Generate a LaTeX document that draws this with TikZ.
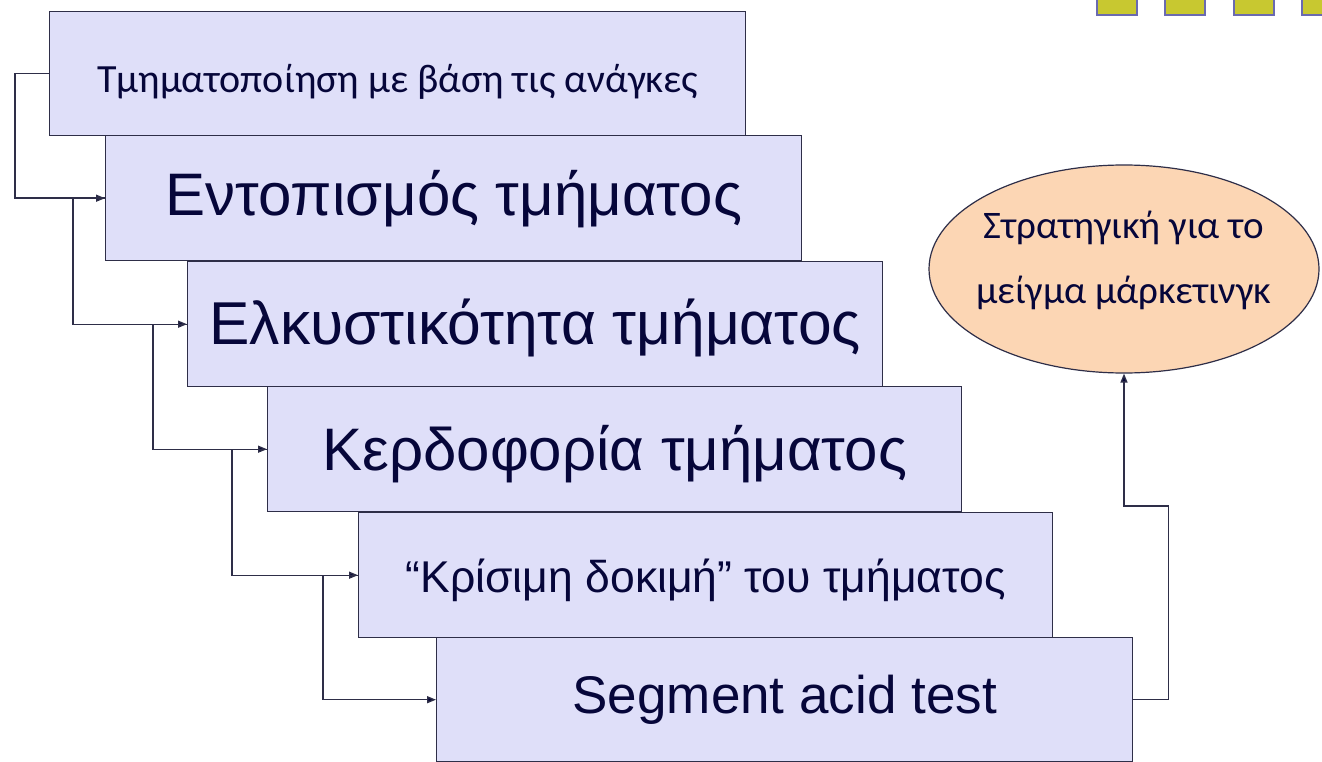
\documentclass[tikz,border=0pt]{standalone}
\usepackage{fontspec}
\setmainfont{Liberation Sans}
\newfontfamily\calfont{Carlito}
\usetikzlibrary{arrows.meta,shapes.geometric}
\definecolor{boxfill}{HTML}{DFDFF9}
\definecolor{boxline}{HTML}{2E2E48}
\definecolor{txt}{HTML}{06063A}
\definecolor{ellfill}{HTML}{FCD6B4}
\definecolor{sqfill}{HTML}{C8C830}
\definecolor{sqline}{HTML}{6A6AB0}
\begin{document}
\begin{tikzpicture}[x=1pt,y=-1pt,
  box/.style={draw=boxline,line width=1.4pt,fill=boxfill,minimum width=696pt,
    minimum height=125pt,inner sep=0pt,anchor=north west,text=txt,text depth=0pt},
  conn/.style={draw=boxline,line width=1.4pt,-{Triangle[length=9pt,width=7pt,fill=txt]}},
  sq/.style={fill=sqfill,draw=sqline,line width=2pt}]
\clip (0,0) rectangle (1322,762);
\fill[white] (0,0) rectangle (1322,762);
% decorative squares (top right)
\draw[sq] (1097,-10) rectangle (1137,15);
\draw[sq] (1165,-10) rectangle (1205,15);
\draw[sq] (1234,-10) rectangle (1274,15);
\draw[sq] (1302,-10) rectangle (1342,15);
% boxes
\node[box,minimum height=124pt,text height=38pt,font=\calfont\fontsize{40}{44}\selectfont] (b1) at (49,11) {Τμηματοποίηση με βάση τις ανάγκες};
\node[box,text height=35pt,font=\fontsize{60}{64}\selectfont] (b2) at (105,135) {Εντοπισμός τμήματος};
\node[box,minimum width=695pt,text height=41pt,font=\fontsize{60.5}{64}\selectfont] (b3) at (187,261) {Ελκυστικότητα τμήματος};
\node[box,minimum width=694pt,text height=42pt,font=\fontsize{60}{64}\selectfont] (b4) at (267,386) {Κερδοφορία τμήματος};
\node[box,minimum width=694pt,text height=35pt,font=\fontsize{44.5}{48}\selectfont] (b5) at (358,512) {“Κρίσιμη δοκιμή” του τμήματος};
\node[box,minimum width=696pt,minimum height=124pt,text height=28pt,font=\fontsize{53}{56}\selectfont] (b6) at (436,637) {Segment acid test};
% ellipse
\node[ellipse,draw=boxline,line width=1.2pt,fill=ellfill,minimum width=390pt,minimum height=208pt,
  inner xsep=-60pt,inner ysep=0pt,align=center,text=txt,text height=68pt,text depth=0pt,
  font=\calfont\fontsize{39}{65}\selectfont] (ell) at (1124,269)
  {Στρατηγική για το\\μείγμα μάρκετινγκ};
% connectors
\draw[conn] (b1.west) -- ++(-34,0) |- (b2.west);
\draw[conn] (b2.west) -- ++(-32,0) |- (b3.west);
\draw[conn] (b3.west) -- ++(-34,0) |- (b4.west);
\draw[conn] (b4.west) -- ++(-35,0) |- (b5.west);
\draw[conn] (b5.west) -- ++(-35,0) |- (b6.west);
\coordinate (turn) at (1124,506);
\draw[conn] (b6.east) -- ++(35,0) |- (turn) -- (ell.south);
\end{tikzpicture}
\end{document}
